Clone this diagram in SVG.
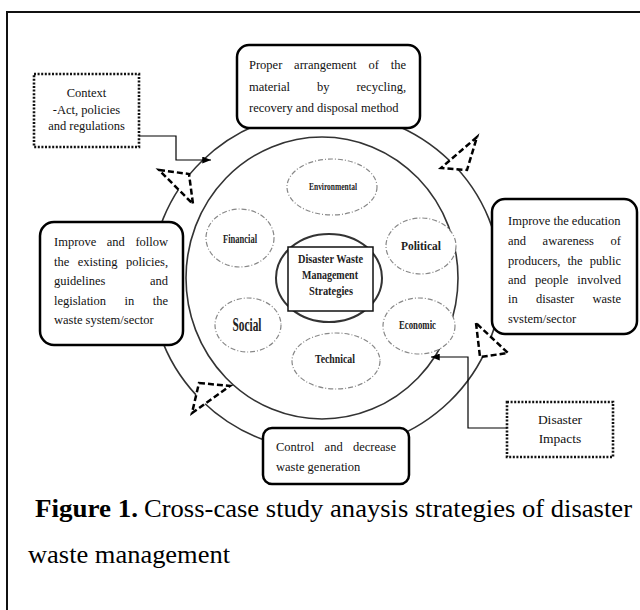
<svg xmlns="http://www.w3.org/2000/svg" width="640" height="610" viewBox="0 0 640 610">
<style>
.t{font-family:"Liberation Serif","Times New Roman",serif;font-size:12.5px;fill:#111}
.tr{font-family:"Liberation Serif","Times New Roman",serif;font-size:12.5px;fill:#111}
.ti{font-family:"Liberation Serif","Times New Roman",serif;font-size:13.5px;fill:#111}
.b{font-family:"Liberation Serif","Times New Roman",serif;font-weight:bold;fill:#222;text-anchor:middle}
.cap{font-family:"Liberation Serif","Times New Roman",serif;font-size:25px;fill:#000}
.box{fill:#fff;stroke:#000;stroke-width:2.5}
.dot{fill:#fff;stroke:#111;stroke-width:2.6;stroke-dasharray:2 1.6}
.ring{fill:none;stroke:#333;stroke-width:1.6}
.el{fill:#fff;stroke:#888;stroke-width:1.2;stroke-dasharray:5 2 1 2}
.tri{fill:#fff;stroke:#000;stroke-width:2.5;stroke-dasharray:6 3;stroke-linejoin:miter}
.con{fill:none;stroke:#000;stroke-width:1.2}
</style>
<defs>
<marker id="ah" viewBox="0 0 10 8" refX="10" refY="4" markerWidth="9" markerHeight="7" orient="auto" markerUnits="userSpaceOnUse"><path d="M0,0 L10,4 L0,8 Z" fill="#000"/></marker>
</defs>
<rect width="640" height="610" fill="#fff"/>
<rect x="7" y="12" width="700" height="700" fill="none" stroke="#111" stroke-width="2"/>

<g id="rings">
<ellipse class="ring" cx="326" cy="281" rx="175" ry="170"/>
<ellipse class="ring" cx="322" cy="278" rx="136" ry="141"/>
</g>

<g id="environmental"><ellipse class="el" cx="332" cy="187" rx="45" ry="28"/><text class="b" x="333" y="190" font-size="10.5" textLength="48" lengthAdjust="spacingAndGlyphs">Environmental</text></g>
<g id="financial"><ellipse class="el" cx="240" cy="238" rx="34" ry="29"/><text class="b" x="240" y="243" font-size="13" textLength="34" lengthAdjust="spacingAndGlyphs">Financial</text></g>
<g id="political"><ellipse class="el" cx="421" cy="246" rx="35" ry="28"/><text class="b" x="421" y="250" font-size="13" textLength="40" lengthAdjust="spacingAndGlyphs">Political</text></g>
<g id="social"><ellipse class="el" cx="248" cy="325" rx="33" ry="27"/><text class="b" x="247" y="331" font-size="18" textLength="29" lengthAdjust="spacingAndGlyphs">Social</text></g>
<g id="economic"><ellipse class="el" cx="419" cy="326" rx="36" ry="28"/><text class="b" x="417.5" y="329" font-size="11.5" textLength="37" lengthAdjust="spacingAndGlyphs">Economic</text></g>
<g id="technical"><ellipse class="el" cx="336" cy="361" rx="44" ry="28"/><text class="b" x="335" y="363" font-size="12.5" textLength="40" lengthAdjust="spacingAndGlyphs">Technical</text></g>

<g id="center">
<ellipse cx="329" cy="278" rx="53" ry="44" fill="#fff" stroke="#333" stroke-width="2"/>
<rect x="288" y="247" width="85" height="64" fill="#fff" stroke="#111" stroke-width="1.5"/>
<text class="b" x="330.5" y="263" font-size="13" textLength="65" lengthAdjust="spacingAndGlyphs">Disaster Waste</text>
<text class="b" x="330" y="279" font-size="13" textLength="56" lengthAdjust="spacingAndGlyphs">Management</text>
<text class="b" x="331" y="295" font-size="13" textLength="44" lengthAdjust="spacingAndGlyphs">Strategies</text>
</g>

<g id="arrowheads">
<polygon class="tri" points="159,170 189,174 193,204"/>
<polygon class="tri" points="477,137 441,168 467,170"/>
<polygon class="tri" points="476,323 480,357 508,353"/>
<polygon class="tri" points="199,383 230,386 192,413"/>
</g>

<g id="box-top">
<rect class="box" x="237" y="45" width="183" height="83" rx="12"/>
<text class="t" y="69"><tspan x="249">Proper</tspan><tspan x="294.1">arrangement</tspan><tspan x="368.4">of</tspan><tspan x="390.7">the</tspan></text>
<text class="t" y="91"><tspan x="249">material</tspan><tspan x="317">by</tspan><tspan x="356.4">recycling,</tspan></text>
<text class="t" x="249" y="112">recovery and disposal method</text>
</g>

<g id="box-left">
<rect class="box" x="40" y="222" width="143" height="123" rx="14"/>
<text class="t" y="246"><tspan x="54">Improve</tspan><tspan x="106.8">and</tspan><tspan x="135.4">follow</tspan></text>
<text class="t" y="266"><tspan x="54">the</tspan><tspan x="77.8">existing</tspan><tspan x="126">policies,</tspan></text>
<text class="t" y="285"><tspan x="54">guidelines</tspan><tspan x="150">and</tspan></text>
<text class="t" y="305"><tspan x="54">legislation</tspan><tspan x="124.5">in</tspan><tspan x="152.7">the</tspan></text>
<text class="t" x="54" y="324">waste system/sector</text>
</g>

<g id="box-right">
<rect class="box" x="492" y="199" width="145" height="135" rx="13"/>
<text class="tr" x="508" y="225">Improve the education</text>
<text class="tr" y="245"><tspan x="508">and</tspan><tspan x="542.6">awareness</tspan><tspan x="610.6">of</tspan></text>
<text class="tr" y="265"><tspan x="508">producers,</tspan><tspan x="567.4">the</tspan><tspan x="589.7">public</tspan></text>
<text class="tr" y="284"><tspan x="508">and</tspan><tspan x="535">people</tspan><tspan x="577.2">involved</tspan></text>
<text class="tr" y="303"><tspan x="508">in</tspan><tspan x="536">disaster</tspan><tspan x="592.5">waste</tspan></text>
<text class="tr" x="508" y="323">svstem/sector</text>
</g>

<g id="box-bottom">
<rect class="box" x="263" y="428" width="146" height="56" rx="9"/>
<text class="t" y="451"><tspan x="276">Control</tspan><tspan x="324.6">and</tspan><tspan x="353">decrease</tspan></text>
<text class="t" x="276" y="471">waste generation</text>
</g>

<g id="context">
<rect class="dot" x="34" y="74" width="105" height="73"/>
<text class="t" x="86.5" y="97" text-anchor="middle">Context</text>
<text class="t" x="86.5" y="114" text-anchor="middle">-Act, policies</text>
<text class="t" x="86.5" y="130" text-anchor="middle">and regulations</text>
</g>

<g id="impacts">
<rect class="dot" x="507" y="402" width="106" height="55"/>
<text class="ti" x="560" y="424" text-anchor="middle">Disaster</text>
<text class="ti" x="560" y="443" text-anchor="middle">Impacts</text>
</g>

<g id="connectors">
<polyline class="con" points="139,136 176,136 176,160 211,160" marker-end="url(#ah)"/>
<polyline class="con" points="507,428 468,428 468,357 431,357" marker-end="url(#ah)"/>
</g>

<g id="caption">
<text class="cap" x="35" y="517" font-weight="bold" textLength="103" lengthAdjust="spacingAndGlyphs">Figure 1.</text>
<text class="cap" x="144" y="517" textLength="488" lengthAdjust="spacingAndGlyphs">Cross-case study anaysis strategies of disaster</text>
<text class="cap" x="28" y="563" textLength="202" lengthAdjust="spacingAndGlyphs">waste management</text>
</g>
</svg>
